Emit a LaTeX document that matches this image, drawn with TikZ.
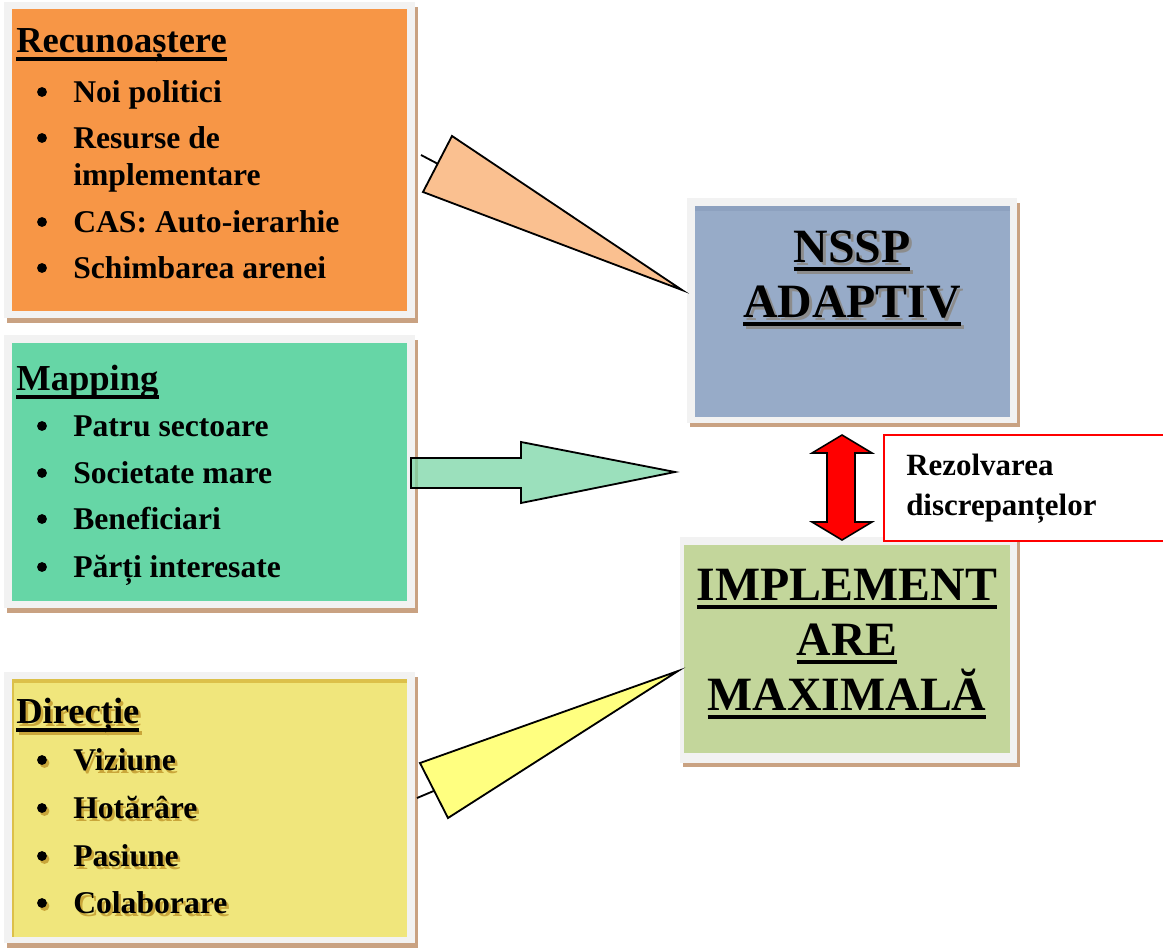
\documentclass[tikz,border=0pt]{standalone}
\usepackage{fontspec}
\setmainfont{Liberation Serif}
\definecolor{framegray}{HTML}{F2F2F2}
\definecolor{shadowtan}{HTML}{C9A282}
\definecolor{recorange}{HTML}{F79646}
\definecolor{wedgeorange}{HTML}{FAC090}
\definecolor{mapgreen}{HTML}{66D6A6}
\definecolor{arrowgreen}{RGB}{122,214,166}
\definecolor{diryellow}{HTML}{F0E67C}
\definecolor{dirband}{HTML}{DCC04A}
\definecolor{dirshade}{HTML}{C9A63A}
\definecolor{wedgeyellow}{HTML}{FFFF80}
\definecolor{nsspblue}{HTML}{97ABC8}
\definecolor{nsspband}{HTML}{8DA1BF}
\definecolor{nsspshade}{HTML}{8C8C8C}
\definecolor{implgreen}{HTML}{C3D69B}
% thick underline, as in the slide
\newcommand\ulword[1]{\setbox0\hbox{#1}\rlap{\rule[-6.2pt]{\wd0}{2.6pt}}\box0}
\tikzset{
  hdr/.style={anchor=base west, inner sep=0pt, font=\fontsize{26}{30}\selectfont\bfseries},
  item/.style={anchor=base west, inner sep=0pt, font=\fontsize{22.5}{27}\selectfont\bfseries},
  ttl/.style={anchor=base, inner sep=0pt, font=\fontsize{34}{40}\selectfont\bfseries},
  dot/.style={circle, fill, inner sep=0pt, minimum size=7pt},
  wedge/.style={draw=black, line width=1.3pt, line join=miter},
}
\begin{document}
\begin{tikzpicture}[x=0.025cm,y=-0.025cm]
	\useasboundingbox (0,0) rectangle (1163,947);
	% boxes
	\fill[shadowtan] (7,7) rectangle (418,323);
	\fill[framegray] (4,2) rectangle (415,318);
	\fill[recorange] (12,9) rectangle (407,311);
	\fill[shadowtan] (7,340) rectangle (418,613);
	\fill[framegray] (4,335) rectangle (415,608);
	\fill[mapgreen] (12,343) rectangle (407,601);
	\fill[shadowtan] (7,677) rectangle (418,950);
	\fill[framegray] (4,672) rectangle (415,943);
	\fill[diryellow] (12,679) rectangle (407,937);
	\fill[dirband] (12,679) rectangle (407,683);
	\fill[dirband] (12,679) rectangle (14,937);
	\fill[shadowtan] (690,203) rectangle (1020,427);
	\fill[framegray] (687,198) rectangle (1017,423);
	\fill[nsspblue] (695,206) rectangle (1010,417);
	\fill[nsspband] (695,206) rectangle (1010,211);
	\fill[shadowtan] (683,542) rectangle (1020,767);
	\fill[framegray] (680,537) rectangle (1017,763);
	\fill[implgreen] (684,545) rectangle (1010,753);

	% Recunoastere
	\node[hdr] (rec) at (16,52) {\ulword{Recunoaștere}};
	\node[dot] (rec-b1) at (42,92) {};
	\node[item] (rec-1) at (73,102) {Noi politici};
	\node[dot] (rec-b2) at (42,138) {};
	\node[item] (rec-2) at (73,148) {Resurse de};
	\node[item] (rec-2b) at (73,185) {implementare};
	\node[dot] (rec-b3) at (42,222) {};
	\node[item] (rec-3) at (73,232) {CAS: Auto-ierarhie};
	\node[dot] (rec-b4) at (42,268) {};
	\node[item] (rec-4) at (73,278) {Schimbarea arenei};

	% Mapping
	\node[hdr] (map) at (16,390) {\ulword{Mapping}};
	\node[dot] (map-b1) at (42,426) {};
	\node[item] (map-1) at (73,436) {Patru sectoare};
	\node[dot] (map-b2) at (42,473) {};
	\node[item] (map-2) at (73,483) {Societate mare};
	\node[dot] (map-b3) at (42,519) {};
	\node[item] (map-3) at (73,529) {Beneficiari};
	\node[dot] (map-b4) at (42,567) {};
	\node[item] (map-4) at (73,577) {Părți interesate};

	% Directie (text with a gold shadow)
	\node[hdr, text=dirshade] (dir-s) at (18.5,726) {\ulword{Direcție}};
	\node[hdr] (dir) at (16,723) {\ulword{Direcție}};
	\node[dot, fill=dirshade] (dir-sb1) at (44.5,763) {};
	\node[item, text=dirshade] (dir-s1) at (75.5,773) {Viziune};
	\node[dot] (dir-b1) at (42,760) {};
	\node[item] (dir-1) at (73,770) {Viziune};
	\node[dot, fill=dirshade] (dir-sb2) at (44.5,811) {};
	\node[item, text=dirshade] (dir-s2) at (75.5,821) {Hotărâre};
	\node[dot] (dir-b2) at (42,808) {};
	\node[item] (dir-2) at (73,818) {Hotărâre};
	\node[dot, fill=dirshade] (dir-sb3) at (44.5,859) {};
	\node[item, text=dirshade] (dir-s3) at (75.5,869) {Pasiune};
	\node[dot] (dir-b3) at (42,856) {};
	\node[item] (dir-3) at (73,866) {Pasiune};
	\node[dot, fill=dirshade] (dir-sb4) at (44.5,906) {};
	\node[item, text=dirshade] (dir-s4) at (75.5,916) {Colaborare};
	\node[dot] (dir-b4) at (42,903) {};
	\node[item] (dir-4) at (73,913) {Colaborare};

	% NSSP adaptiv
	\node[ttl, text=nsspshade] (nssp-s) at (855,265) {\ulword{NSSP}};
	\node[ttl] (nssp) at (852,262) {\ulword{NSSP}};
	\node[ttl, text=nsspshade] (adapt-s) at (855,320) {\ulword{ADAPTIV}};
	\node[ttl] (adapt) at (852,317) {\ulword{ADAPTIV}};

	% implementare maximala
	\node[ttl] (impl1) at (847,600) {\ulword{IMPLEMENT}};
	\node[ttl] (impl2) at (847,655) {\ulword{ARE}};
	\node[ttl] (impl3) at (847,710) {\ulword{MAXIMALĂ}};

	% wedges and arrows
	\coordinate (rec-tip) at (682,290);
	\coordinate (dir-tip) at (678,671);
	\draw[line width=1.3pt] (421,155) -- (440,165);
	\draw[wedge, fill=wedgeorange] (452,136) -- (423,192) -- (rec-tip) -- cycle;
	\draw[wedge, fill=arrowgreen, fill opacity=0.75] (411,458) -- (521,458) -- (521,442) -- (675,472) -- (521,503) -- (521,488) -- (411,488) -- cycle;
	\draw[line width=1.3pt] (417,798) -- (436,790);
	\draw[wedge, fill=wedgeyellow] (420,763) -- (448,818) -- (dir-tip) -- cycle;

	% discrepancy box and double arrow
	\draw[red, line width=1.2pt, fill=white] (884,435) rectangle (1175,541);
	\node[item, font=\fontsize{22}{26}\selectfont\bfseries] (rez1) at (906,475) {Rezolvarea};
	\node[item, font=\fontsize{22}{26}\selectfont\bfseries] (rez2) at (906,515) {discrepanțelor};
	\draw[fill=red, line width=1.1pt] (842,435) -- (872,453) -- (855,453) -- (855,522) -- (872,522) -- (842,540) -- (812,522) -- (827,522) -- (827,453) -- (812,453) -- cycle;
\end{tikzpicture}
\end{document}
